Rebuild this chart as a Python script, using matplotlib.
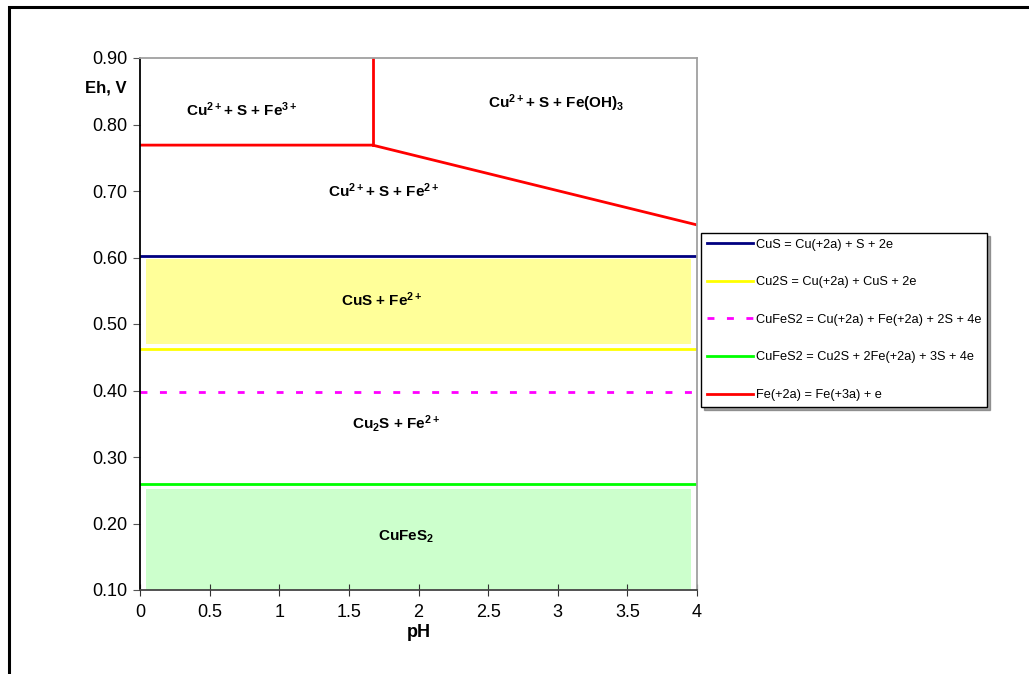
import matplotlib
matplotlib.use("Agg")
import matplotlib.pyplot as plt
from matplotlib.patches import Rectangle

plt.rcParams["font.family"] = ["Liberation Sans", "DejaVu Sans"]
plt.rcParams["mathtext.fontset"] = "custom"
plt.rcParams["mathtext.rm"] = "Liberation Sans"
plt.rcParams["mathtext.bf"] = "Liberation Sans:bold"
plt.rcParams["mathtext.default"] = "bf"

# 水平平衡线 (Eh, V)
level_cus = 0.602
level_cu2s = 0.462
level_cufes2_a = 0.398
level_cufes2_b = 0.259

# Fe(+2a)/Fe(+3a) 边界
fe_ph = [0.0, 1.67, 4.0]
fe_eh = [0.769, 0.769, 0.649]
fe_vert_ph = [1.67, 1.67]
fe_vert_eh = [0.769, 0.90]

# 稳定区填充 (pH 范围, Eh 范围)
fill_ph = [0.04, 3.96]
fill_cus_eh = [0.470, 0.598]
fill_cufes2_eh = [0.100, 0.252]

legend_labels = [
    "CuS = Cu(+2a) + S + 2e",
    "Cu2S = Cu(+2a) + CuS + 2e",
    "CuFeS2 = Cu(+2a) + Fe(+2a) + 2S + 4e",
    "CuFeS2 = Cu2S + 2Fe(+2a) + 3S + 4e",
    "Fe(+2a) = Fe(+3a) + e",
]

region_labels = [
    (0.73, 0.822, r"Cu$^{2+}$+ S + Fe$^{3+}$"),
    (2.99, 0.832, r"Cu$^{2+}$+ S + Fe(OH)$_{3}$"),
    (1.75, 0.700, r"Cu$^{2+}$+ S + Fe$^{2+}$"),
    (1.74, 0.536, r"CuS + Fe$^{2+}$"),
    (1.84, 0.351, r"Cu$_{2}$S + Fe$^{2+}$"),
    (1.91, 0.180, r"CuFeS$_{2}$"),
]

x_ticks = [0, 0.5, 1, 1.5, 2, 2.5, 3, 3.5, 4]
x_tick_labels = ["0", "0.5", "1", "1.5", "2", "2.5", "3", "3.5", "4"]
y_ticks = [0.10, 0.20, 0.30, 0.40, 0.50, 0.60, 0.70, 0.80, 0.90]

fig = plt.figure(figsize=(10.29, 6.74), dpi=100)
W, H = 1029, 674
ax = fig.add_axes([140 / W, 1 - 590 / H, 557 / W, 532 / H])

# 外框
fig.patches.append(Rectangle((9 / W, -0.1), 1.2, 1 - 7 / H + 0.1, transform=fig.transFigure,
                             fill=False, edgecolor="black", linewidth=2.2))

ax.fill_between(fill_ph, fill_cus_eh[0], fill_cus_eh[1], color="#ffff99", linewidth=0)
ax.fill_between(fill_ph, fill_cufes2_eh[0], fill_cufes2_eh[1], color="#ccffcc", linewidth=0)

ax.plot([0, 4], [level_cus] * 2, color="#000080", lw=2, label=legend_labels[0])
ax.plot([0, 4], [level_cu2s] * 2, color="#ffff00", lw=2, label=legend_labels[1])
ax.plot([0, 3.97], [level_cufes2_a] * 2, color="#ff00ff", lw=2, dashes=(2.5, 4.5),
        label=legend_labels[2])
ax.plot([0, 4], [level_cufes2_b] * 2, color="#00ff00", lw=2, label=legend_labels[3])
ax.plot(fe_ph, fe_eh, color="#ff0000", lw=2, label=legend_labels[4])
ax.plot(fe_vert_ph, fe_vert_eh, color="#ff0000", lw=2)

for x, y, s in region_labels:
    ax.text(x, y, s, ha="center", va="center", fontsize=11, fontweight="bold")

ax.set_xlim(0, 4)
ax.set_ylim(0.10, 0.90)
ax.set_xticks(x_ticks)
ax.set_xticklabels(x_tick_labels)
ax.set_yticks(y_ticks)
ax.set_yticklabels([f"{v:.2f}" for v in y_ticks])
ax.tick_params(axis="x", direction="inout", length=8, labelsize=13, pad=6, color="#333333")
ax.tick_params(axis="y", direction="out", length=5, labelsize=13, pad=4, color="#555555")

ax.spines["left"].set_color("black")
ax.spines["bottom"].set_color("#444444")
ax.spines["top"].set_color("#a0a0a0")
ax.spines["right"].set_color("#a0a0a0")
for sp in ax.spines.values():
    sp.set_linewidth(1.3)

ax.set_xlabel("pH", fontsize=13, fontweight="bold", labelpad=2)
fig.text(85 / W, 1 - 88 / H, "Eh, V", fontsize=12, fontweight="bold", va="center", ha="left")

leg = ax.legend(loc="upper left", bbox_to_anchor=(701 / W, 1 - 233 / H),
                bbox_transform=fig.transFigure, borderaxespad=0, frameon=True,
                fancybox=False, shadow=True, edgecolor="black", fontsize=9.2,
                handlelength=3.6, labelspacing=2.0, handletextpad=0.25,
                borderpad=0.45)
leg.get_frame().set_linewidth(1.0)

fig.savefig("out.png", dpi=100, facecolor="white")
plt.close(fig)
